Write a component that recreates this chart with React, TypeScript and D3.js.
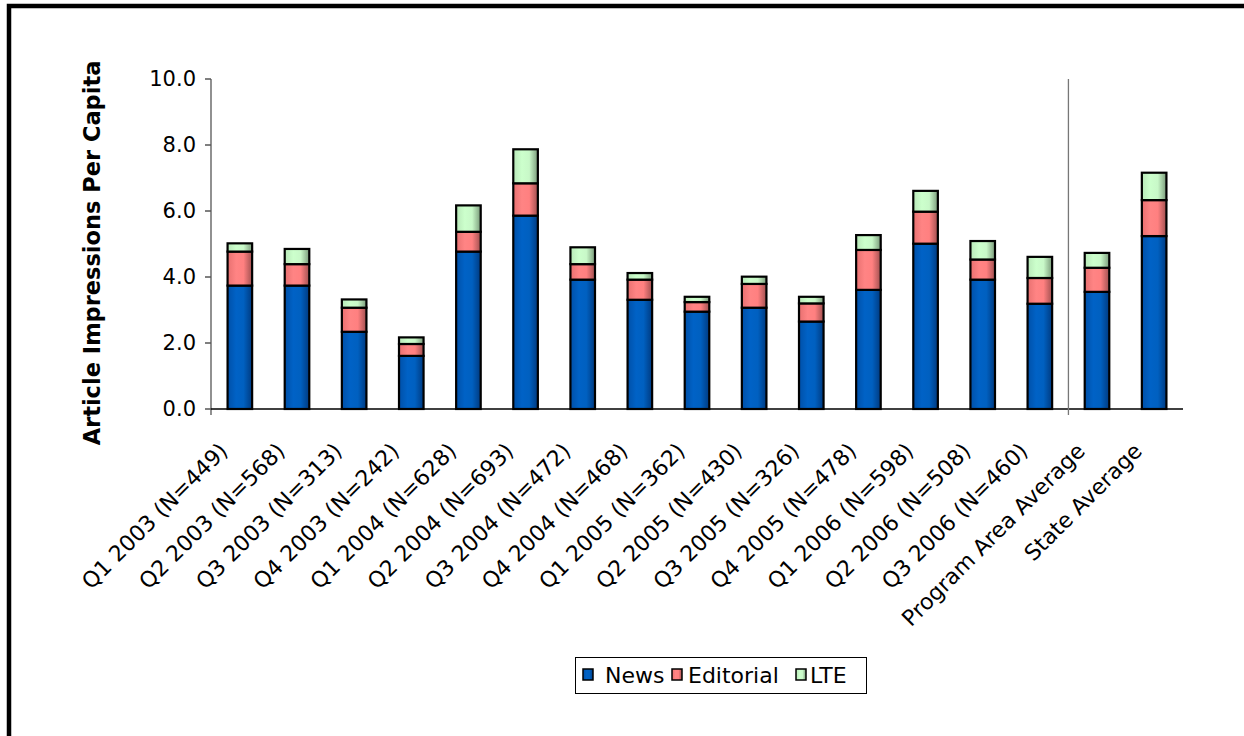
import React from "react";
import * as d3 from "d3";

const categories = [
  "Q1 2003 (N=449)",
  "Q2 2003 (N=568)",
  "Q3 2003 (N=313)",
  "Q4 2003 (N=242)",
  "Q1 2004 (N=628)",
  "Q2 2004 (N=693)",
  "Q3 2004 (N=472)",
  "Q4 2004 (N=468)",
  "Q1 2005 (N=362)",
  "Q2 2005 (N=430)",
  "Q3 2005 (N=326)",
  "Q4 2005 (N=478)",
  "Q1 2006 (N=598)",
  "Q2 2006 (N=508)",
  "Q3 2006 (N=460)",
  "Program Area Average",
  "State Average",
];

const news = [3.74, 3.74, 2.34, 1.61, 4.77, 5.86, 3.92, 3.31, 2.95, 3.07, 2.65, 3.61, 5.01, 3.92, 3.19, 3.55, 5.24];
const editorial = [1.03, 0.65, 0.73, 0.36, 0.6, 0.98, 0.47, 0.61, 0.29, 0.72, 0.55, 1.21, 0.97, 0.61, 0.78, 0.73, 1.09];
const lte = [0.25, 0.46, 0.25, 0.2, 0.8, 1.03, 0.51, 0.2, 0.16, 0.22, 0.2, 0.45, 0.63, 0.56, 0.64, 0.45, 0.83];

const seriesNames = ["News", "Editorial", "LTE"];
const yTicks = [0, 2, 4, 6, 8, 10];
const separatorAfter = 15;

const W = 1244;
const H = 736;
const FONT = "'DejaVu Sans', Verdana, sans-serif";

const gradients = [
  { id: "gNews", stops: ["#0050a8", "#0062c6", "#0060c0", "#003a80"] },
  { id: "gEd", stops: ["#e87070", "#ff8484", "#ff8080", "#a05050"] },
  { id: "gLte", stops: ["#b8e8b8", "#ccffcc", "#c8f8c8", "#7a9a7a"] },
];

const legendSwatchX = [583, 672, 796];
const legendTextX = [605, 688, 810];

export default function App() {
  const x = d3
    .scaleBand<string>()
    .domain(categories)
    .range([211, 1183])
    .paddingInner(0.57)
    .paddingOuter(0.29);
  const y = d3.scaleLinear().domain([0, 10]).range([409, 79]);

  const rows = categories.map((c, i) => ({
    cat: c,
    News: news[i],
    Editorial: editorial[i],
    LTE: lte[i],
  }));
  const stack = d3.stack<any>().keys(seriesNames)(rows);

  const sepX =
    ((x(categories[separatorAfter - 1]) as number) + x.bandwidth() + (x(categories[separatorAfter]) as number)) / 2;

  return (
    <svg
      width={W}
      height={H}
      style={{ position: "absolute", left: 0, top: 0, background: "#fff" }}
      fontFamily={FONT}
    >
      <defs>
        {gradients.map((g) => (
          <linearGradient key={g.id} id={g.id} x1="0" x2="1" y1="0" y2="0">
            <stop offset="0" stopColor={g.stops[0]} />
            <stop offset="0.35" stopColor={g.stops[1]} />
            <stop offset="0.65" stopColor={g.stops[2]} />
            <stop offset="1" stopColor={g.stops[3]} />
          </linearGradient>
        ))}
      </defs>
      <rect x={0} y={0} width={W} height={H} fill="#fff" />
      {/* outer frame */}
      <path d={`M9,${H + 10} L9,6 L${W + 10},6`} fill="none" stroke="#000" strokeWidth={4.5} />

      {/* y axis title */}
      <text
        transform={`translate(92,253) rotate(-90)`}
        textAnchor="middle"
        dominantBaseline="central"
        fontWeight="bold"
        fontSize={22.5}
        fill="#000"
      >
        Article Impressions Per Capita
      </text>

      {/* y ticks */}
      {yTicks.map((t) => (
        <g key={t}>
          <line x1={205} x2={211} y1={y(t)} y2={y(t)} stroke="#000" strokeWidth={1} />
          <text x={196} y={y(t)} textAnchor="end" dominantBaseline="central" fontSize={21} fill="#000">
            {t.toFixed(1)}
          </text>
        </g>
      ))}

      {/* bars */}
      {stack.map((s, si) => (
        <g key={s.key} fill={`url(#${gradients[si].id})`} stroke="#000" strokeWidth={2.2}>
          {s.map((d: any, i: number) => (
            <rect
              key={i}
              x={x(categories[i])}
              y={y(d[1])}
              width={x.bandwidth()}
              height={y(d[0]) - y(d[1])}
            />
          ))}
        </g>
      ))}

      {/* axes lines */}
      <line x1={211} x2={211} y1={79} y2={415} stroke="#555" strokeWidth={1.3} />
      <line x1={211} x2={1183} y1={409} y2={409} stroke="#000" strokeWidth={1.3} />
      <line x1={sepX} x2={sepX} y1={79} y2={415} stroke="#777" strokeWidth={1.3} />

      {/* x labels */}
      {categories.map((c) => {
        const cx = (x(c) as number) + x.bandwidth() / 2;
        return (
          <text
            key={c}
            transform={`translate(${cx - 16},${447}) rotate(-45)`}
            textAnchor="end"
            dominantBaseline="central"
            fontSize={22}
            fill="#000"
          >
            {c}
          </text>
        );
      })}

      {/* legend */}
      <rect x={575.5} y={657.5} width={291} height={36} fill="#fff" stroke="#000" strokeWidth={1} />
      {seriesNames.map((n, i) => (
        <g key={n}>
          <rect
            x={legendSwatchX[i]}
            y={669}
            width={10}
            height={11}
            fill={`url(#${gradients[i].id})`}
            stroke="#000"
            strokeWidth={1.5}
          />
          <text x={legendTextX[i]} y={683} fontSize={22} fill="#000">
            {n}
          </text>
        </g>
      ))}
    </svg>
  );
}
